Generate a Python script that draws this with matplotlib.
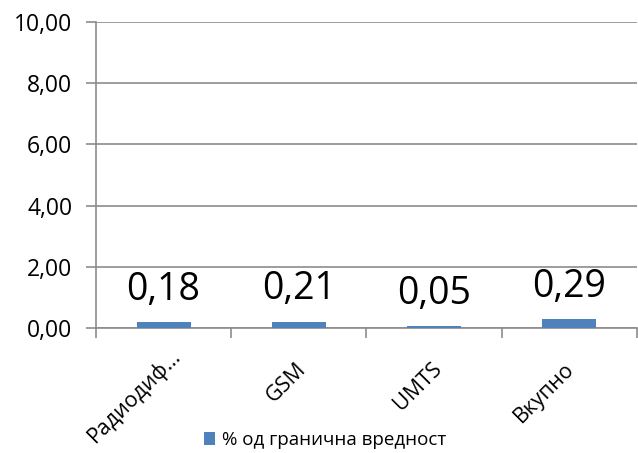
import matplotlib
matplotlib.use("Agg")
import matplotlib.pyplot as plt
import matplotlib.transforms as mtransforms
import numpy as np

plt.rcParams['font.family'] = ['Open Sans', 'DejaVu Sans']

categories = ["Радиодиф…", "GSM", "UMTS", "Вкупно"]
values = [0.18, 0.21, 0.05, 0.29]
series_name = "% од гранична вредност"
yticks = [0, 2, 4, 6, 8, 10]

bar_color = "#4F81BD"
grid_color = "#8C8C8C"

fig = plt.figure(figsize=(6.38, 4.53), dpi=100)
ax = fig.add_axes([0.1505, 0.276, 0.8475, 0.6755])

x = np.arange(len(categories))
bars = ax.bar(x, values, width=0.4, color=bar_color, label=series_name, zorder=3)

for xi, v in zip(x, values):
    ax.annotate(("%.2f" % v).replace(".", ","), (xi, v), xytext=(0, 16),
                textcoords="offset points", ha="center", va="baseline",
                fontsize=27, color="black")

ax.set_xlim(-0.5, len(categories) - 0.5)
ax.set_ylim(0, 10)
ax.set_yticks(yticks)
ax.set_yticklabels([("%.2f" % t).replace(".", ",") for t in yticks], fontsize=16.5)
ax.yaxis.grid(True, color=grid_color, linewidth=1.2, zorder=0)
ax.set_axisbelow(True)

# category ticks sit between the bars
ax.set_xticks(np.arange(len(categories) + 1) - 0.5)
ax.set_xticklabels([])
ax.set_xticks(x, minor=True)
ax.set_xticklabels(categories, minor=True, rotation=45, ha="right", va="top",
                   rotation_mode="anchor", fontsize=15.5)
ax.tick_params(axis="x", which="minor", length=0, pad=22)
ax.tick_params(axis="x", which="major", length=7, color=grid_color, width=1.2)
ax.tick_params(axis="y", length=7, color=grid_color, width=1.2, pad=10)

# small nudges of the rotated labels (first one is truncated, sits further right)
shifts = [(6, 14), (-3, 0), (-3, 0), (-5, 0)]
for lab, (dx, dy) in zip(ax.get_xticklabels(minor=True), shifts):
    off = mtransforms.ScaledTranslation(dx / 100, dy / 100, fig.dpi_scale_trans)
    lab.set_transform(lab.get_transform() + off)

for side in ["top", "right"]:
    ax.spines[side].set_visible(False)
for side in ["left", "bottom"]:
    ax.spines[side].set_color(grid_color)
    ax.spines[side].set_linewidth(1.2)

fig.legend(handles=[bars], labels=[series_name], loc="center",
           bbox_to_anchor=(0.51, 0.029), frameon=False, fontsize=13.5,
           handlelength=0.55, handleheight=0.7, handletextpad=0.4)

fig.savefig("out.png", dpi=100)
